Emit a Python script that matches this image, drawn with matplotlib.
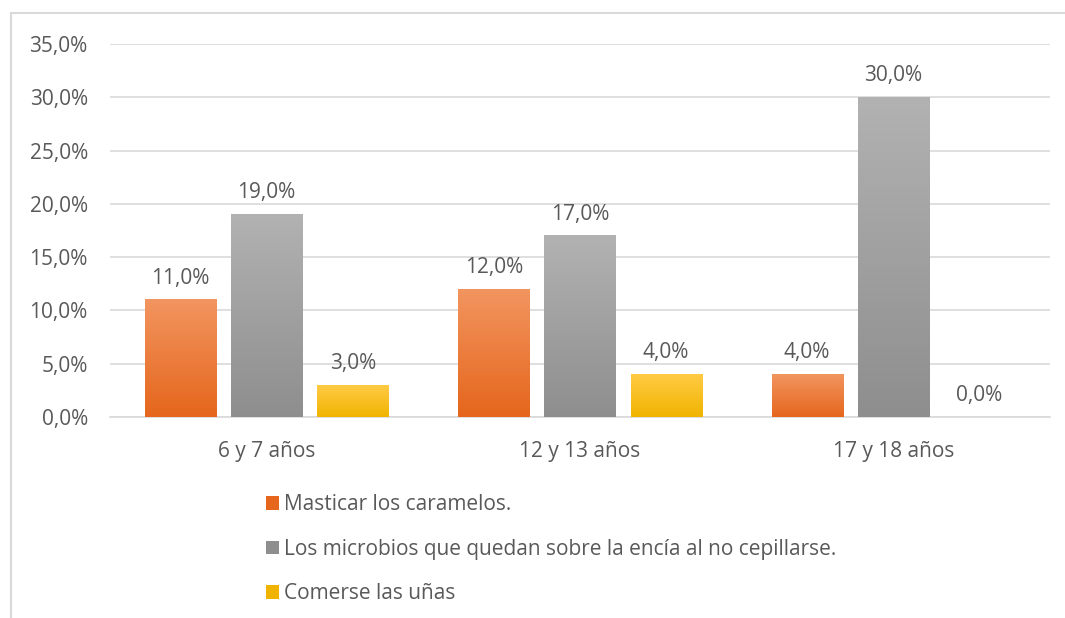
import numpy as np
import matplotlib.pyplot as plt
from matplotlib.colors import LinearSegmentedColormap
from matplotlib.patches import Patch, Rectangle
from matplotlib.ticker import FuncFormatter

plt.rcParams['font.family'] = ['Open Sans', 'DejaVu Sans']

# datos del grafico
grupos = ['6 y 7 años', '12 y 13 años', '17 y 18 años']
series = ['Masticar los caramelos.',
          'Los microbios que quedan sobre la encía al no cepillarse.',
          'Comerse las uñas']
masticar = [0.11, 0.12, 0.04]
microbios = [0.19, 0.17, 0.30]
unas = [0.03, 0.04, 0.00]

valores = [masticar, microbios, unas]
# colores (arriba, abajo) del degradado de cada serie
degradados = [('#F29560', '#E5661C'), ('#B2B2B2', '#8E8E8E'), ('#FFCB45', '#F0B400')]
texto = '#595959'

fig = plt.figure(figsize=(10.65, 6.18), dpi=100)
ax = fig.add_axes([110 / 1065, 1 - 417 / 618, 940 / 1065, 373 / 618])

x = np.arange(len(grupos))
ancho = 0.227
paso = 0.275
grad = np.linspace(1, 0, 256).reshape(-1, 1)

for i, (vals, (c_arriba, c_abajo)) in enumerate(zip(valores, degradados)):
    cmap = LinearSegmentedColormap.from_list('g%d' % i, [c_abajo, c_arriba])
    pos = x + (i - 1) * paso
    barras = ax.bar(pos, vals, ancho, color='none', edgecolor='none', zorder=3)
    for b, v in zip(barras, vals):
        if v > 0:
            ax.imshow(grad, cmap=cmap, aspect='auto', zorder=3,
                      extent=(b.get_x(), b.get_x() + b.get_width(), 0, v))
        ax.annotate(('%.1f%%' % (v * 100)).replace('.', ','),
                    (b.get_x() + b.get_width() / 2, v),
                    xytext=(0, 8), textcoords='offset points',
                    ha='center', va='bottom', fontsize=15, color=texto)

ax.set_xlim(-0.5, len(grupos) - 0.5)
ax.set_ylim(0, 0.35)
ax.set_yticks(np.arange(0, 0.351, 0.05))
ax.yaxis.set_major_formatter(FuncFormatter(lambda v, p: ('%.1f%%' % (v * 100)).replace('.', ',')))
ax.set_xticks(x)
ax.set_xticklabels(grupos)
ax.tick_params(axis='both', length=0, labelsize=15, labelcolor=texto)
ax.tick_params(axis='y', pad=16)
ax.tick_params(axis='x', pad=17)
ax.grid(axis='y', color='#D9D9D9', linewidth=1.2, zorder=0)
ax.set_axisbelow(True)
for s in ['top', 'right', 'left']:
    ax.spines[s].set_visible(False)
ax.spines['bottom'].set_color('#D9D9D9')
ax.spines['bottom'].set_linewidth(1.2)

# leyenda
handles = [Patch(facecolor=c[1], edgecolor='none') for c in degradados]
fig.legend(handles, series, loc='upper left', bbox_to_anchor=(258 / 1065, 1 - 486 / 618),
           frameon=False, fontsize=15, labelcolor=texto, handlelength=0.62,
           handleheight=0.62, handletextpad=0.25, labelspacing=1.13, borderaxespad=0)

# marco del grafico
fig.patches.append(Rectangle((11 / 1065, -0.1), 1.2, 1.1 - 13 / 618, transform=fig.transFigure,
                             fill=False, edgecolor='#D9D9D9', linewidth=1.5))

fig.savefig('out.png', dpi=100)
